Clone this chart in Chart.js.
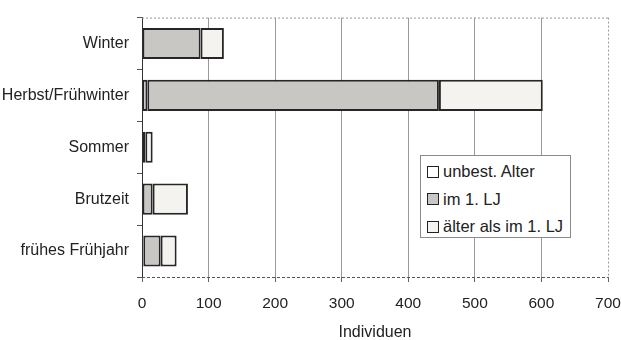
<!DOCTYPE html>
<html>
<head>
<meta charset="utf-8">
<script src="https://cdn.jsdelivr.net/npm/chart.js@4"></script>
<style>
  html, body { margin: 0; padding: 0; background: #fff; }
  #wrap { position: relative; width: 621px; height: 340px; }
  #legend {
    position: absolute; left: 420px; top: 155px; width: 151px; height: 83px;
    border: 1px solid #8a8a8a; background: #fff; box-sizing: border-box;
    font: 16.5px "Liberation Sans", Arial, sans-serif; color: #222; padding-top: 2px;
  }
  .row { display: flex; align-items: center; height: 27.5px; padding-left: 6px; }
  .sw { width: 10px; height: 10px; border: 1px solid #222; margin-right: 4px; flex: none; }
</style>
</head>
<body>
<div id="wrap">
  <canvas id="c" width="621" height="340"></canvas>
  <div id="legend"></div>
</div>
<script>
// Seasons (top to bottom)
const categories = ['Winter', 'Herbst/Frühwinter', 'Sommer', 'Brutzeit', 'frühes Frühjahr'];
// Individuals per age class
const unbestAlter = [0, 8, 0, 0, 2];
const im1LJ      = [88, 438, 5, 16, 26];
const aelter     = [35, 156, 11, 53, 24];
const seriesNames = ['unbest. Alter', 'im 1. LJ', 'älter als im 1. LJ'];
const xMin = 0, xMax = 700, xStep = 100;
const xTitle = 'Individuen';

const fills = ['#ffffff', '#c9c7c4', '#f5f3f0'];
const values = [unbestAlter, im1LJ, aelter];

const datasets = values.map((v, i) => ({
  label: seriesNames[i],
  data: v,
  backgroundColor: fills[i],
  borderColor: '#262626',
  borderWidth: 2,
  borderSkipped: false,
  barPercentage: 0.6,
  categoryPercentage: 1.0
}));

// dotted frame on top and right, dashed baseline at the bottom
const frame = {
  id: 'frame',
  afterDraw(chart) {
    const { ctx, chartArea: a } = chart;
    ctx.save();
    ctx.lineWidth = 1;
    ctx.strokeStyle = '#9a9a9a';
    ctx.setLineDash([2, 2]);
    ctx.beginPath();
    ctx.moveTo(a.left, a.top + 0.5);
    ctx.lineTo(a.right, a.top + 0.5);
    ctx.moveTo(a.right + 0.5, a.top);
    ctx.lineTo(a.right + 0.5, a.bottom);
    ctx.stroke();
    ctx.strokeStyle = '#555';
    ctx.setLineDash([3, 2]);
    ctx.beginPath();
    ctx.moveTo(a.left, a.bottom + 0.5);
    ctx.lineTo(a.right, a.bottom + 0.5);
    ctx.stroke();
    ctx.restore();
  }
};

const ff = '"Liberation Sans", Arial, sans-serif';

const chart = new Chart(document.getElementById('c'), {
  type: 'bar',
  data: { labels: categories, datasets },
  options: {
    indexAxis: 'y',
    responsive: false,
    animation: false,
    devicePixelRatio: 1,
    layout: { padding: { top: 7, right: 13, left: 0, bottom: 0 } },
    plugins: { legend: { display: false }, tooltip: { enabled: false } },
    scales: {
      x: {
        stacked: true,
        min: xMin, max: xMax,
        ticks: { stepSize: xStep, font: { family: ff, size: 15.5 }, color: '#222', padding: 12 },
        grid: {
          color: (c) => (c.tick && c.tick.value === xMax) ? 'rgba(0,0,0,0)' : '#9a9a9a',
          tickColor: '#666',
          tickLength: 5,
          lineWidth: 1
        },
        border: { display: false },
        title: { display: true, text: xTitle, font: { family: ff, size: 16 }, color: '#222', padding: { top: 4, bottom: -2 } },
        afterFit(s) { s.height = 63; s.paddingRight = 13; }
      },
      y: {
        stacked: true,
        ticks: { font: { family: ff, size: 16 }, color: '#222', padding: 8 },
        grid: { drawOnChartArea: false, tickLength: 5, color: '#555' },
        border: { color: '#333', width: 1 },
        afterFit(s) { s.width = 142; }
      }
    }
  },
  plugins: [frame]
});

// legend built from the datasets
const lg = document.getElementById('legend');
datasets.forEach(d => {
  const row = document.createElement('div');
  row.className = 'row';
  const sw = document.createElement('span');
  sw.className = 'sw';
  sw.style.background = d.backgroundColor;
  const t = document.createElement('span');
  t.textContent = d.label;
  row.appendChild(sw);
  row.appendChild(t);
  lg.appendChild(row);
});
</script>
</body>
</html>
